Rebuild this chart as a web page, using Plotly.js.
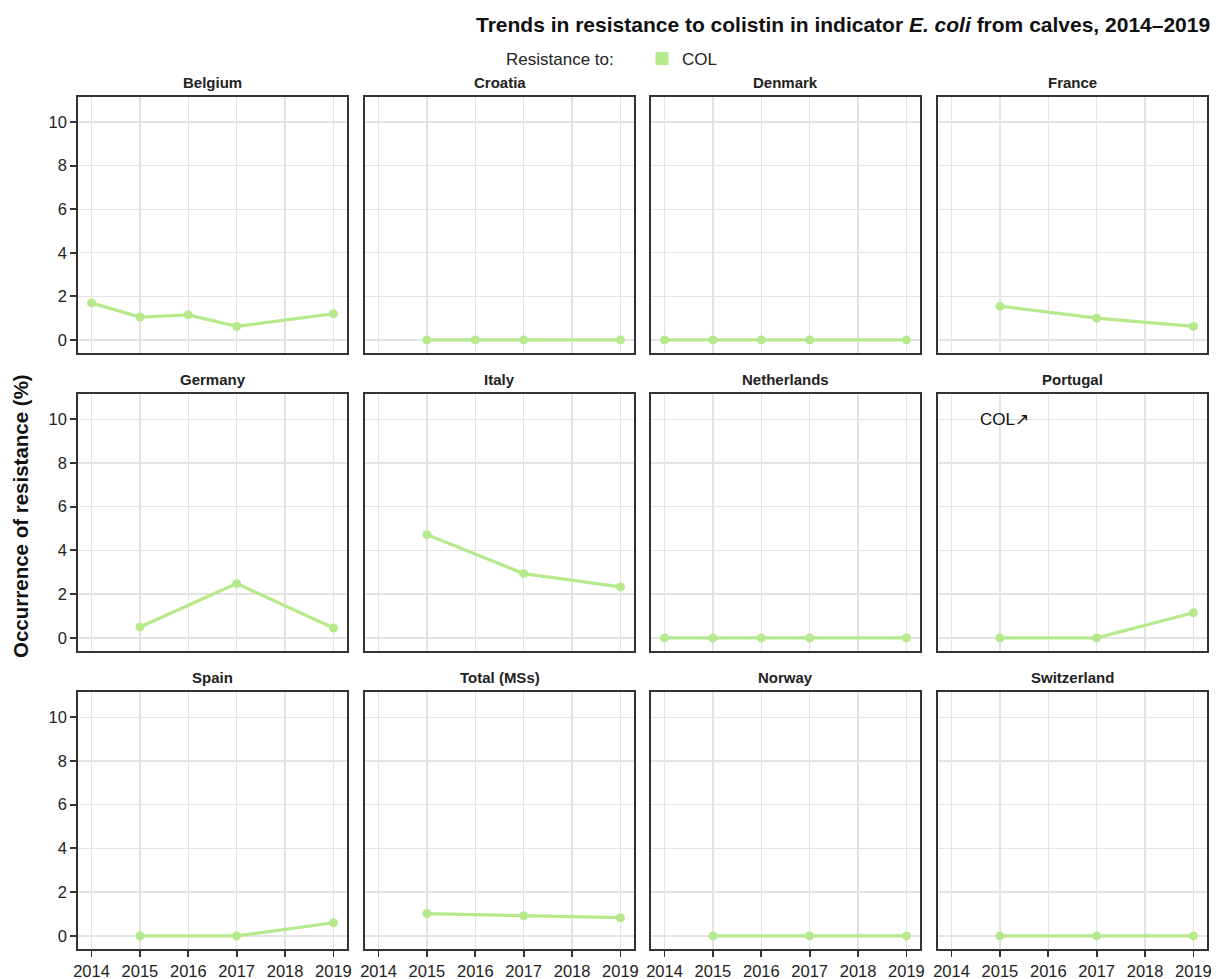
<!DOCTYPE html>
<html>
<head>
<meta charset="utf-8">
<script src="https://cdn.plot.ly/plotly-3.0.1.min.js"></script>
<style>html,body{margin:0;padding:0;background:#fff}#chart{width:1220px;height:979px}</style>
</head>
<body>
<div id="chart"></div>
<script>
// ---- data ----
const years = [2014, 2015, 2016, 2017, 2018, 2019];
const countries = ["Belgium", "Croatia", "Denmark", "France", "Germany", "Italy", "Netherlands", "Portugal", "Spain", "Total (MSs)", "Norway", "Switzerland"];
const belgium     = [1.7, 1.05, 1.15, 0.62, null, 1.2];
const croatia     = [null, 0, 0, 0, null, 0];
const denmark     = [0, 0, 0, 0, null, 0];
const france      = [null, 1.55, null, 1.0, null, 0.62];
const germany     = [null, 0.5, null, 2.48, null, 0.45];
const italy       = [null, 4.72, null, 2.94, null, 2.33];
const netherlands = [0, 0, 0, 0, null, 0];
const portugal    = [null, 0, null, 0, null, 1.15];
const spain       = [null, 0, null, 0, null, 0.6];
const totalMSs    = [null, 1.02, null, 0.92, null, 0.83];
const norway      = [null, 0, null, 0, null, 0];
const switzerland = [null, 0, null, 0, null, 0];
const seriesValues = [belgium, croatia, denmark, france, germany, italy, netherlands, portugal, spain, totalMSs, norway, switzerland];
const yTicks = [0, 2, 4, 6, 8, 10];
const seriesName = "COL";
const trendNotes = [{panel: "Portugal", text: "COL\u2197", x: 2015.1, y: 10}];

// ---- layout geometry ----
const W = 1220, H = 979;
const colPx = [[78, 347], [365, 634], [651, 920], [938, 1207]];
const rowPx = [[97, 353], [394, 651], [692, 949]];
const green = "#b5e98b";
const axisCol = "#333333";
const gridCol = "#e3e3e3";
const fontFam = "Liberation Sans, Arial, sans-serif";

const traces = [];
const layout = {
  width: W, height: H,
  margin: {l: 0, r: 0, t: 0, b: 0},
  paper_bgcolor: "#fff", plot_bgcolor: "#fff",
  showlegend: true,
  legend: {x: 642 / W, y: 1 - 59 / H, xanchor: "left", yanchor: "middle", orientation: "h",
           font: {family: fontFam, size: 17, color: "#222"}, bgcolor: "rgba(0,0,0,0)",
           itemwidth: 30, tracegroupgap: 0},
  annotations: [],
  font: {family: fontFam}
};

countries.forEach((name, i) => {
  const r = Math.floor(i / 4), c = i % 4;
  const ax = i === 0 ? "" : String(i + 1);
  const xa = "xaxis" + ax, ya = "yaxis" + ax;
  traces.push({
    x: years, y: seriesValues[i], xaxis: "x" + ax, yaxis: "y" + ax,
    type: "scatter", mode: "lines+markers", connectgaps: true,
    line: {color: green, width: 3.2}, marker: {color: green, size: 9},
    showlegend: false, name: seriesName, hoverinfo: "x+y"
  });
  const isBottom = r === 2, isLeft = c === 0;
  layout[xa] = {
    domain: [colPx[c][0] / W, colPx[c][1] / W],
    range: [2013.72, 2019.28], anchor: "y" + ax,
    tickvals: years, ticktext: years.map(String),
    showticklabels: isBottom, ticks: isBottom ? "outside" : "", ticklen: 6, tickwidth: 1.8, tickcolor: axisCol,
    tickfont: {family: fontFam, size: 16.5, color: "#222"},
    showgrid: true, gridcolor: gridCol, gridwidth: 1.3, zeroline: false,
    showline: true, linecolor: axisCol, linewidth: 1.8, mirror: true, fixedrange: true
  };
  layout[ya] = {
    domain: [1 - rowPx[r][1] / H, 1 - rowPx[r][0] / H],
    range: [-0.6, 11.15], anchor: "x" + ax,
    tickvals: yTicks, ticktext: yTicks.map(String),
    showticklabels: isLeft, ticks: isLeft ? "outside" : "", ticklen: 6, tickwidth: 1.8, tickcolor: axisCol,
    tickfont: {family: fontFam, size: 16.5, color: "#222"},
    showgrid: true, gridcolor: gridCol, gridwidth: 1.3, zeroline: false,
    showline: true, linecolor: axisCol, linewidth: 1.8, mirror: true, fixedrange: true
  };
  layout.annotations.push({
    text: "<b>" + name + "</b>", xref: "paper", yref: "paper",
    x: (colPx[c][0] + colPx[c][1]) / 2 / W, y: 1 - (rowPx[r][0] - 4) / H,
    xanchor: "center", yanchor: "bottom", showarrow: false,
    font: {family: fontFam, size: 15, color: "#222"}
  });
  trendNotes.filter(n => n.panel === name).forEach(n => {
    layout.annotations.push({
      text: n.text, xref: "x" + ax, yref: "y" + ax, x: n.x, y: n.y,
      xanchor: "center", yanchor: "middle", showarrow: false,
      font: {family: fontFam, size: 17, color: "#111"}
    });
  });
});

// legend-only trace for the COL key
traces.push({
  x: [null], y: [null], type: "scatter", mode: "markers", name: seriesName,
  marker: {symbol: "square", size: 13, color: green}, showlegend: true, hoverinfo: "skip"
});

layout.annotations.push({
  text: "<b>Trends in resistance to colistin in indicator <i>E. coli</i> from calves, 2014\u20132019</b>",
  xref: "paper", yref: "paper", x: 1212 / W, y: 1 - 24 / H, xanchor: "right", yanchor: "middle",
  showarrow: false, font: {family: fontFam, size: 21, color: "#111"}
});
layout.annotations.push({
  text: "Resistance to:", xref: "paper", yref: "paper", x: 616 / W, y: 1 - 59 / H,
  xanchor: "right", yanchor: "middle", showarrow: false,
  font: {family: fontFam, size: 17, color: "#222"}
});
layout.annotations.push({
  text: "<b>Occurrence of resistance (%)</b>", xref: "paper", yref: "paper",
  x: 20 / W, y: 1 - 516 / H, xanchor: "center", yanchor: "middle", textangle: -90,
  showarrow: false, font: {family: fontFam, size: 20.5, color: "#111"}
});

Plotly.newPlot("chart", traces, layout, {displayModeBar: false, staticPlot: true});
</script>
</body>
</html>
